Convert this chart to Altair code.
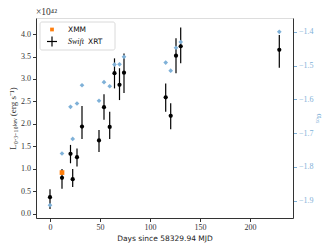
import altair as alt
import pandas as pd

days = [0, 12, 20.5, 22.7, 27, 32, 49, 54, 59.7, 64.5, 69.5, 74, 115.7, 120.7, 126, 130.7, 229.3]
lum = [0.365, 0.795, 1.33, 0.766, 1.256, 1.94, 1.63, 2.37, 1.93, 3.13, 2.87, 3.14, 2.59, 2.18, 3.52, 3.73, 3.65]
lum_lo = [0.10, 0.55, 1.12, 0.59, 1.05, 1.66, 1.37, 2.09, 1.66, 2.79, 2.53, 2.69, 2.27, 1.88, 3.13, 3.35, 3.25]
lum_hi = [0.54, 0.99, 1.53, 0.99, 1.45, 2.40, 1.86, 2.66, 2.27, 3.46, 3.24, 3.57, 2.90, 2.46, 3.91, 4.15, 3.98]
aox = [-1.913, -1.760, -1.622, -1.717, -1.612, -1.558, -1.604, -1.549, -1.561, -1.497, -1.496, -1.474, -1.491, -1.515, -1.447, -1.430, -1.400]
xmm_day = [12]
xmm_lum = [0.913]

swift = pd.DataFrame({"day": days, "lum": lum, "lo": lum_lo, "hi": lum_hi, "aox": aox})
xmm = pd.DataFrame({"day": xmm_day, "lum": xmm_lum})

SERIF = "Liberation Serif"
SANS = "DejaVu Sans"
BLUE = "#7fb1d8"

xsc = alt.Scale(domain=[-14, 243], nice=False, zero=False)
ysc = alt.Scale(domain=[-0.1, 4.36], nice=False, zero=False)
asc = alt.Scale(domain=[-1.951, -1.359], nice=False, zero=False)

xax = alt.Axis(values=[0, 50, 100, 150, 200], title="Days since 58329.94 MJD", grid=False,
               labelFont=SERIF, labelFontSize=8, titleFont=SANS, titleFontSize=7.5,
               titleFontWeight="normal", tickSize=3.5, domainColor="#333", tickColor="#333",
               labelColor="#333", titleColor="#222", titlePadding=3, labelPadding=2)
yax = alt.Axis(values=[0, 0.5, 1, 1.5, 2, 2.5, 3, 3.5, 4], format=".1f",
               title="L₀.₃₋₁₀ₖₑᵥ (erg s⁻¹)", grid=False,
               labelFont=SERIF, labelFontSize=8, titleFont=SERIF, titleFontSize=9,
               titleFontWeight="normal", tickSize=3.5, domainColor="#333", tickColor="#333",
               labelColor="#333", titleColor="#333", titlePadding=3, labelPadding=2)
aax = alt.Axis(values=[-1.9, -1.8, -1.7, -1.6, -1.5, -1.4], format=".1f", orient="right",
               title="αₒₓ", titleAngle=90, grid=False,
               labelFont=SERIF, labelFontSize=8, titleFont=SERIF, titleFontSize=9,
               titleFontWeight="normal", tickSize=3.5, domainColor="#333", tickColor=BLUE,
               labelColor=BLUE, titleColor=BLUE, titlePadding=1, labelPadding=2)

X = alt.X("day:Q", scale=xsc, axis=xax)

base = alt.Chart(swift)
err = base.mark_rule(color="black", strokeWidth=1.2).encode(
    x=X,
    y=alt.Y("lo:Q", scale=ysc, axis=yax),
    y2="hi:Q",
)
pts = base.mark_circle(color="black", size=18, opacity=1).encode(
    x=X,
    y=alt.Y("lum:Q", scale=ysc, axis=yax),
)
xpt = alt.Chart(xmm).mark_square(color="#ff7f0e", size=22, opacity=1).encode(
    x=X,
    y=alt.Y("lum:Q", scale=ysc, axis=yax),
)
exp = alt.Chart(pd.DataFrame({"t": ["×10⁴²"]})).mark_text(
    font=SERIF, fontSize=9.5, align="left", baseline="bottom", color="#333"
).encode(x=alt.value(0), y=alt.value(-1), text="t:N")

# legend
one = pd.DataFrame({"a": [0]})
leg_box = alt.Chart(one).mark_rect(
    fill="white", fillOpacity=0.8, stroke="#d0d0d0", strokeWidth=0.8, cornerRadius=2
).encode(x=alt.value(4), x2=alt.value(79), y=alt.value(4), y2=alt.value(32))
leg_sq = alt.Chart(one).mark_square(
    color="#ff7f0e", size=14, opacity=1
).encode(x=alt.value(16), y=alt.value(11.5))
leg_v = alt.Chart(one).mark_rule(color="black", strokeWidth=1.2).encode(
    x=alt.value(16), y=alt.value(18.5), y2=alt.value(28.5))
leg_h = alt.Chart(one).mark_rule(color="black", strokeWidth=1.2).encode(
    x=alt.value(11), x2=alt.value(21), y=alt.value(23.5))
leg_t1 = alt.Chart(pd.DataFrame({"t": ["XMM"]})).mark_text(
    font=SANS, fontSize=7.5, align="left", baseline="middle", color="#111"
).encode(x=alt.value(32), y=alt.value(11.5), text="t:N")
leg_t2 = alt.Chart(pd.DataFrame({"t": ["Swift"]})).mark_text(
    font=SERIF, fontSize=8, fontStyle="italic", align="left", baseline="middle", color="#111"
).encode(x=alt.value(32), y=alt.value(23.5), text="t:N")
leg_t3 = alt.Chart(pd.DataFrame({"t": ["XRT"]})).mark_text(
    font=SANS, fontSize=7.5, align="left", baseline="middle", color="#111"
).encode(x=alt.value(52), y=alt.value(23.5), text="t:N")

left = alt.layer(err, pts, xpt, exp, leg_box, leg_sq, leg_v, leg_h, leg_t1, leg_t2, leg_t3)

right = base.mark_point(shape="diamond", filled=True, color=BLUE, size=22, opacity=1).encode(
    x=X,
    y=alt.Y("aox:Q", scale=asc, axis=aax),
)

chart = alt.layer(left, right).resolve_scale(y="independent").properties(
    width=257, height=200,
    autosize=alt.AutoSizeParams(type="none"),
    padding={"left": 28, "top": 10, "right": 35, "bottom": 26},
).configure_view(stroke="#333", strokeWidth=1).configure(background="white")

chart.save("out.html", embed_options={"renderer": "svg", "actions": False})
